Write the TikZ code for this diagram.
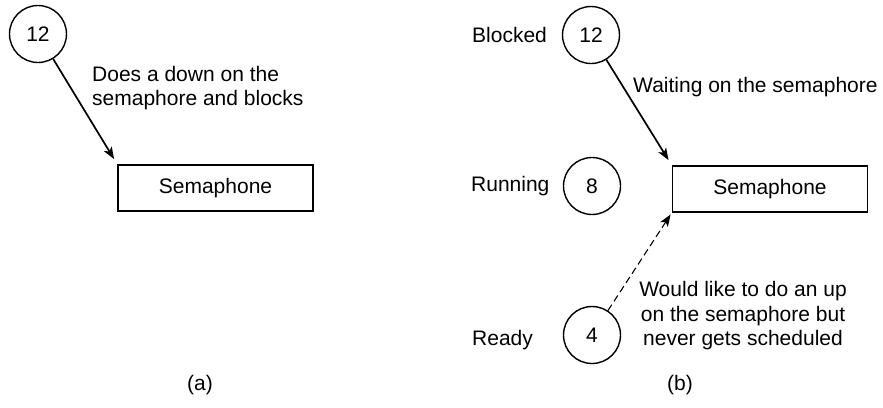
\documentclass[tikz,border=0pt]{standalone}
\usepackage{fontspec}
\setmainfont{Liberation Sans}
\usetikzlibrary{positioning}
\usetikzlibrary{arrows.meta}
\tikzset{proc/.style = {draw, circle, line width=1.4pt, minimum size=57pt, inner sep=0}}
\tikzset{semabox/.style = {draw, rectangle, line width=1.6pt, minimum width=195pt, minimum height=46pt}}
\tikzset{lbl/.style = {inner sep=0}}
\tikzset{wait/.style = {line width=1.7pt, -{Stealth[length=12pt,width=9pt,inset=3pt]}, shorten >=6pt}}
\tikzset{every node/.style={font=\fontsize{21}{24.5}\selectfont}}

\begin{document}
\begin{tikzpicture}[x=1pt, y=-1pt]
    \useasboundingbox (0,0) rectangle (883,407);
    \node[proc] (pa12) at (38,34) {12};
    \node[semabox] (sema) at (215.5,188) {Semaphone};
    \node[lbl, anchor=west, align=left] (downa) at (92,88) {Does a down on the\\semaphore and blocks};
    \node[lbl] (capa) at (200,385) {(a)};
    \draw[wait] (pa12) -- (sema.north west);

    \node[proc] (pb12) at (591,35) {12};
    \node[proc] (pb8) at (592,186) {8};
    \node[proc] (pb4) at (592,335) {4};
    \node[lbl, anchor=west] (blocked) at (472,35) {Blocked};
    \node[lbl, anchor=west] (running) at (471,186) {Running};
    \node[lbl, anchor=west] (ready) at (472,340) {Ready};
    \node[semabox] (semb) at (770,189) {Semaphone};
    \node[lbl, anchor=west] (waitb) at (633,87) {Waiting on the semaphore};
    \node[lbl, align=center] (upb) at (743,316) {Would like to do an up\\on the semaphore but\\never gets scheduled};
    \node[lbl] (capb) at (680,385) {(b)};
    \draw[wait] (pb12) -- (semb.north west);
    \draw[wait, line width=1.1pt, dash pattern=on 7pt off 4pt, shorten >=2pt] (pb4) -- (semb.south west);
\end{tikzpicture}
\end{document}
